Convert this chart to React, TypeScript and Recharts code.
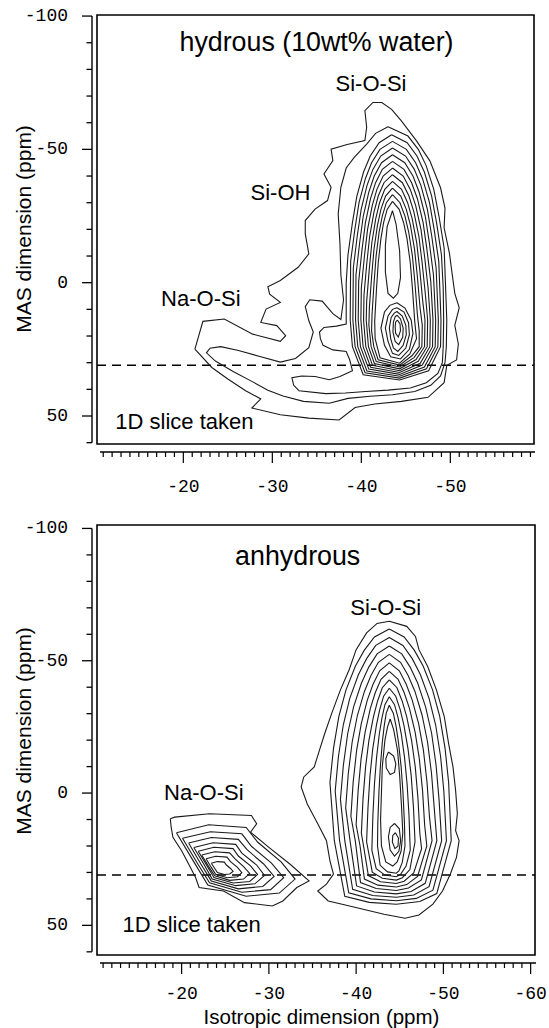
import React from "react";
import { ScatterChart, Scatter, XAxis, YAxis, ReferenceLine, ReferenceArea } from "recharts";

type Pt = [number, number];

// ---- hydrous panel contours (isotropic ppm, MAS ppm) ----
const hydT1: Pt[] = [[-21.3,24.9],[-22.2,14.5],[-24.6,13.6],[-27.8,19.3],[-30.9,22],[-31.5,19.9],[-30.5,16.1],[-28.7,14.9],[-29.3,9.9],[-30.9,7.4],[-29.7,4.3],[-29.5,1.5],[-30.9,-0.8],[-32.9,-5.8],[-34.1,-10.8],[-33.7,-18.3],[-33.7,-23.3],[-34.8,-27.6],[-36.2,-30.8],[-36.6,-35.8],[-35.8,-40.8],[-36.8,-45.8],[-36.6,-50.1],[-38.4,-51.8],[-40.4,-53.3],[-40.6,-58.3],[-40.4,-64.5],[-41.3,-67.6],[-42.3,-67.6],[-43.4,-65],[-44.5,-60.7],[-46.2,-53.2],[-47.7,-45.7],[-48.9,-35.6],[-49.4,-28],[-49.3,-20.6],[-49.9,-11],[-50.2,-3.4],[-50.5,4],[-51,9.4],[-50.5,16],[-50.9,23],[-50.7,29],[-49.6,31],[-49.3,37.5],[-47.5,43],[-44.5,44.5],[-41.5,45.5],[-39.3,46.8],[-37.5,51.5],[-34.1,50.8],[-30.9,49.5],[-27.7,47],[-28.7,43.6],[-27,40.5],[-25,36.1],[-23.2,31.8]];
const hydT2: Pt[] = [[-43,-58.5],[-45.24,-55],[-46.4,-50],[-47.27,-44],[-48.14,-35],[-48.72,-25],[-49.3,-13],[-49.45,0],[-49.6,14],[-49.55,24],[-49.4,30],[-48.9,35],[-47.8,38.5],[-46,40.8],[-43.5,42],[-41,42.6],[-38.5,43.4],[-36.4,45.2],[-33.5,44.5],[-31.2,42.5],[-29.5,40.3],[-27.8,37.2],[-25.6,33.3],[-23.6,29.4],[-22.6,26.3],[-23,24.6],[-24.2,24],[-26.2,25.4],[-28.5,27.6],[-30.9,29.8],[-32.6,28.4],[-34.1,24.4],[-34.6,18.5],[-34.1,14.3],[-33.7,9],[-34.2,6.4],[-35.6,6.9],[-36.8,11.6],[-37.7,13.8],[-38,6.5],[-37.7,-3],[-37.6,-14.5],[-37.4,-25.8],[-37.7,-35.8],[-38.3,-43],[-39.2,-47],[-40.6,-52],[-41.6,-56]];
const hydT3: Pt[] = [[-43.4,-55.5],[-45.15,-52.5],[-46.25,-47.5],[-47.08,-41.5],[-47.9,-32.5],[-48.45,-22.5],[-49,-10.5],[-49.2,2],[-49.25,14],[-49.2,24],[-49.1,30],[-48.6,34],[-47.3,37.5],[-45.5,39.5],[-43,40.3],[-40.5,40.8],[-38.2,41.4],[-36,41.6],[-33,40.5],[-32.4,38.5],[-32.2,35.6],[-33.3,35],[-34.8,35.2],[-36.4,36.4],[-37.6,35.2],[-39,33],[-38.7,29],[-38.3,25.8],[-36.8,25.2],[-35.7,23.5],[-35.4,21],[-35.3,18.5],[-35.8,16.8],[-37.2,16.3],[-38.3,15.5],[-38.3,10],[-38.3,0],[-38.5,-10.5],[-39,-22.5],[-39.5,-32.5],[-40.25,-41.5],[-41,-47.5],[-42,-52.5]];
const hydS1: Pt[] = [[-43.5,-53],[-45.06,-50],[-46.1,-45],[-46.88,-39],[-47.66,-30],[-48.18,-20],[-48.7,-8],[-48.95,14],[-48.9,24],[-47.56,33],[-44.3,36.5],[-40.21,34.5],[-39,24],[-38.75,14],[-38.8,-8],[-39.27,-20],[-39.74,-30],[-40.45,-39],[-41.15,-45],[-42.09,-50]];
const hydS2: Pt[] = [[-43.5,-50.5],[-44.97,-47.5],[-45.95,-42.5],[-46.69,-36.5],[-47.42,-27.5],[-47.91,-17.5],[-48.4,-5.5],[-48.65,14],[-48.6,24],[-47.32,32.3],[-44.3,35.8],[-40.42,33.8],[-39.3,24],[-39.05,14],[-39.1,-5.5],[-39.54,-17.5],[-39.98,-27.5],[-40.64,-36.5],[-41.3,-42.5],[-42.18,-47.5]];
const hydS3: Pt[] = [[-43.5,-48],[-44.88,-45],[-45.8,-40],[-46.49,-34],[-47.18,-25],[-47.64,-15],[-48.1,-3],[-48.35,14],[-48.3,24],[-47.09,31.6],[-44.3,35.1],[-40.63,33.1],[-39.6,24],[-39.35,14],[-39.4,-3],[-39.81,-15],[-40.22,-25],[-40.84,-34],[-41.45,-40],[-42.27,-45]];
const hydS4: Pt[] = [[-43.5,-45.5],[-44.79,-42.5],[-45.65,-37.5],[-46.3,-31.5],[-46.94,-22.5],[-47.37,-12.5],[-47.8,-0.5],[-48.05,14],[-48,24],[-46.85,30.9],[-44.3,34.4],[-40.84,32.4],[-39.9,24],[-39.65,14],[-39.7,-0.5],[-40.08,-12.5],[-40.46,-22.5],[-41.03,-31.5],[-41.6,-37.5],[-42.36,-42.5]];
const hydS5: Pt[] = [[-43.5,-43],[-44.7,-40],[-45.5,-35],[-46.1,-29],[-46.7,-20],[-47.1,-10],[-47.5,2],[-47.75,14],[-47.7,24],[-46.62,30.2],[-44.3,33.7],[-41.05,31.7],[-40.2,24],[-39.95,14],[-40,2],[-40.35,-10],[-40.7,-20],[-41.23,-29],[-41.75,-35],[-42.45,-40]];
const hydS6: Pt[] = [[-43.5,-40.5],[-44.61,-37.5],[-45.35,-32.5],[-45.91,-26.5],[-46.46,-17.5],[-46.83,-7.5],[-47.2,4.5],[-47.45,14],[-47.4,24],[-46.39,29.5],[-44.3,33],[-41.26,31],[-40.5,24],[-40.25,14],[-40.3,4.5],[-40.62,-7.5],[-40.94,-17.5],[-41.42,-26.5],[-41.9,-32.5],[-42.54,-37.5]];
const hydS7: Pt[] = [[-43.5,-38],[-44.52,-35],[-45.2,-30],[-45.71,-24],[-46.22,-15],[-46.56,-5],[-46.9,7],[-47.15,14],[-47.1,24],[-46.15,28.8],[-44.3,32.3],[-41.47,30.3],[-40.8,24],[-40.55,14],[-40.6,7],[-40.89,-5],[-41.18,-15],[-41.62,-24],[-42.05,-30],[-42.63,-35]];
const hydS8: Pt[] = [[-43.5,-35.5],[-44.43,-32.5],[-45.05,-27.5],[-45.52,-21.5],[-45.98,-12.5],[-46.29,-2.5],[-46.6,9.5],[-46.85,16],[-46.8,24],[-45.92,28.1],[-44.3,31.6],[-41.68,29.6],[-41.1,24],[-40.85,16],[-40.9,9.5],[-41.16,-2.5],[-41.42,-12.5],[-41.81,-21.5],[-42.2,-27.5],[-42.72,-32.5]];
const hydS9: Pt[] = [[-43.5,-33],[-44.34,-30],[-44.9,-25],[-45.32,-19],[-45.74,-10],[-46.02,0],[-46.3,12],[-46.5,18],[-46.5,24],[-45.68,27.4],[-44.3,30.9],[-41.89,28.9],[-41.4,24],[-41.15,18],[-41.2,12],[-41.43,0],[-41.66,-10],[-42,-19],[-42.35,-25],[-42.81,-30]];
const hydS10: Pt[] = [[-43.5,-30.5],[-44.25,-27.5],[-44.75,-22.5],[-45.13,-16.5],[-45.5,-7.5],[-45.75,2.5],[-46,14.5],[-46.2,21],[-45.45,26.7],[-44.3,30.2],[-42.1,28.2],[-41.55,21],[-41.5,14.5],[-41.7,2.5],[-41.9,-7.5],[-42.2,-16.5],[-42.5,-22.5],[-42.9,-27.5]];
const hydTear: Pt[] = [[-43.5,-27],[-43.9,-22],[-44.3,-12],[-44.4,-2],[-44.1,4],[-43.6,5.8],[-43,4],[-42.7,-4],[-42.7,-14],[-42.9,-21]];
const hydC1: Pt[] = [[-44,7.5],[-44.9,9.5],[-45.6,14],[-45.8,19],[-45.4,25],[-44.4,28.6],[-43.3,27.8],[-42.6,23.5],[-42.2,17],[-42.6,11],[-43.2,8.5]];
const hydC2: Pt[] = [[-44,9.4],[-44.8,11],[-45.3,15],[-45.4,19.5],[-45,24.5],[-44.2,27.3],[-43.5,26.5],[-43,22],[-42.7,17],[-43,12.5],[-43.5,10]];
const hydC3: Pt[] = [[-44,10.8],[-44.6,12.5],[-45,16],[-45.05,19.5],[-44.7,23.5],[-44.1,25.8],[-43.6,24.5],[-43.3,21],[-43.15,17],[-43.35,13],[-43.7,11.4]];
const hydC4: Pt[] = [[-44,12.2],[-44.4,13.6],[-44.7,17],[-44.65,20.5],[-44.2,23.2],[-43.8,22],[-43.55,18.5],[-43.6,14.8],[-43.8,12.8]];
const hydC5: Pt[] = [[-44.05,14],[-44.35,15.5],[-44.4,18],[-44.15,20.4],[-43.85,19],[-43.8,16.5],[-43.85,14.8]];

const hydrousContours: Pt[][] = [hydT1, hydT2, hydT3, hydS1, hydS2, hydS3, hydS4, hydS5, hydS6, hydS7, hydS8, hydS9, hydS10, hydTear, hydC1, hydC2, hydC3, hydC4, hydC5];

// ---- anhydrous panel contours ----
const anhR1: Pt[] = [[-43.8,-64.9],[-45.8,-63],[-46.8,-59.2],[-47.2,-54.2],[-48.2,-47.8],[-49.2,-39],[-50.1,-28.9],[-50.6,-18.7],[-51.1,-9.9],[-51.4,-1],[-51.6,7.8],[-51.4,14.2],[-51.8,18],[-51.5,24.3],[-50.8,30.6],[-49.9,37],[-48.8,42],[-47.2,46.1],[-45.6,47.3],[-43.2,45.8],[-40.8,43.9],[-38.4,42],[-36.8,40.8],[-35.6,37],[-36.6,34.4],[-37.4,30.6],[-37,25.6],[-36.6,18],[-35.6,11.6],[-34.4,4.1],[-33.7,-2.3],[-34,-6.1],[-35.2,-9.9],[-35.8,-16.2],[-36.4,-22.5],[-37.2,-30.1],[-38.2,-39],[-39.2,-46.6],[-40,-54.2],[-41.2,-60.5],[-42.4,-64.1]];
const anhR2: Pt[] = [[-43.8,-62],[-45.5,-59],[-46.66,-54],[-47.68,-48],[-48.76,-39],[-49.58,-29],[-50.19,-17],[-50.6,-4],[-50.9,18],[-49.24,38],[-47.3,41],[-44.6,42],[-41.5,41.3],[-38.7,39],[-37.5,18],[-37,-4],[-37.41,-17],[-38.02,-29],[-38.84,-39],[-39.92,-48],[-40.94,-54],[-42.1,-59]];
const anhR3: Pt[] = [[-43.8,-58.8],[-45.36,-55.8],[-46.43,-50.8],[-47.36,-44.8],[-48.36,-35.8],[-49.11,-25.8],[-49.68,-13.8],[-50.05,-0.8],[-50.35,18],[-48.8,36.7],[-46.9,39.8],[-44.6,40.7],[-41.7,40],[-39.15,37.7],[-38.1,18],[-37.6,-0.8],[-37.97,-13.8],[-38.53,-25.8],[-39.27,-35.8],[-40.27,-44.8],[-41.2,-50.8],[-42.25,-55.8]];
const anhR4: Pt[] = [[-43.8,-55.6],[-45.23,-52.6],[-46.19,-47.6],[-47.05,-41.6],[-47.96,-32.6],[-48.65,-22.6],[-49.16,-10.6],[-49.5,2.4],[-49.8,18],[-48.36,35.4],[-46.6,38.5],[-44.6,39.4],[-41.9,38.7],[-39.6,36.4],[-38.7,18],[-38.2,2.4],[-38.54,-10.6],[-39.04,-22.6],[-39.71,-32.6],[-40.61,-41.6],[-41.45,-47.6],[-42.4,-52.6]];
const anhR5: Pt[] = [[-43.8,-52.4],[-45.09,-49.4],[-45.96,-44.4],[-46.74,-38.4],[-47.56,-29.4],[-48.18,-19.4],[-48.64,-7.4],[-48.95,5.6],[-49.25,18],[-47.92,34.1],[-46.3,37.2],[-44.6,38.1],[-42.1,37.4],[-40.05,35.1],[-39.3,18],[-38.8,5.6],[-39.1,-7.4],[-39.55,-19.4],[-40.15,-29.4],[-40.95,-38.4],[-41.7,-44.4],[-42.55,-49.4]];
const anhR6: Pt[] = [[-43.8,-49.2],[-44.95,-46.2],[-45.73,-41.2],[-46.42,-35.2],[-47.16,-26.2],[-47.71,-16.2],[-48.12,-4.2],[-48.4,8.8],[-48.7,18],[-47.48,32.8],[-46,35.9],[-44.6,36.8],[-42.3,36.1],[-40.5,33.8],[-39.9,18],[-39.4,8.8],[-39.66,-4.2],[-40.06,-16.2],[-40.59,-26.2],[-41.29,-35.2],[-41.95,-41.2],[-42.7,-46.2]];
const anhR7: Pt[] = [[-43.8,-46],[-44.81,-43],[-45.5,-38],[-46.11,-32],[-46.76,-23],[-47.24,-13],[-47.61,-1],[-47.85,12],[-48.1,20],[-47.04,31.5],[-45.8,34.6],[-44.6,35.5],[-42.5,34.8],[-40.95,32.5],[-40.45,20],[-40,12],[-40.23,-1],[-40.57,-13],[-41.03,-23],[-41.63,-32],[-42.2,-38],[-42.85,-43]];
const anhR8: Pt[] = [[-43.8,-42.8],[-44.68,-39.8],[-45.27,-34.8],[-45.8,-28.8],[-46.36,-19.8],[-46.78,-9.8],[-47.09,2.2],[-47.3,15.2],[-47.5,21],[-46.6,30.2],[-45.5,33.3],[-44.6,34.2],[-42.8,33.5],[-41.4,31.2],[-40.9,21],[-40.6,15.2],[-40.79,2.2],[-41.08,-9.8],[-41.46,-19.8],[-41.98,-28.8],[-42.46,-34.8],[-43,-39.8]];
const anhR9: Pt[] = [[-43.8,-39.6],[-44.54,-36.6],[-45.04,-31.6],[-45.48,-25.6],[-45.95,-16.6],[-46.31,-6.6],[-46.57,5.4],[-46.75,18.4],[-46.16,28.9],[-45.3,32],[-44.6,32.9],[-43,32.2],[-41.85,29.9],[-41.2,18.4],[-41.36,5.4],[-41.59,-6.6],[-41.9,-16.6],[-42.32,-25.6],[-42.71,-31.6],[-43.15,-36.6]];
const anhR10: Pt[] = [[-43.8,-36.4],[-44.4,-33.4],[-44.81,-28.4],[-45.17,-22.4],[-45.55,-13.4],[-45.84,-3.4],[-46.06,8.6],[-46.2,21.6],[-45.72,27.6],[-45.1,30.7],[-44.6,31.6],[-43.3,31],[-42.3,28.6],[-41.8,21.6],[-41.92,8.6],[-42.1,-3.4],[-42.34,-13.4],[-42.66,-22.4],[-42.96,-28.4],[-43.3,-33.4]];
const anhR11: Pt[] = [[-43.8,-33.2],[-44.26,-30.2],[-44.58,-25.2],[-44.85,-19.2],[-45.15,-10.2],[-45.37,-0.2],[-45.54,11.8],[-45.6,20],[-45.28,26.3],[-44.9,29.4],[-44.6,30.3],[-43.6,29.8],[-42.75,27.3],[-42.45,20],[-42.48,11.8],[-42.61,-0.2],[-42.78,-10.2],[-43,-19.2],[-43.21,-25.2],[-43.45,-30.2]];
const anhR12: Pt[] = [[-43.9,-28],[-44.3,-24],[-44.75,-16],[-45,-6],[-45.2,5],[-45.35,15],[-45.15,22],[-44.7,26],[-44.2,27.6],[-43.4,26],[-42.9,20],[-42.8,10],[-42.9,0],[-43,-10],[-43.3,-20],[-43.6,-25]];
const anhIsland: Pt[] = [[-43.7,-15.5],[-44.3,-14],[-44.55,-11],[-44.4,-7.8],[-43.9,-7],[-43.45,-9.5],[-43.4,-13]];
const anhK1: Pt[] = [[-44.4,11.5],[-44.95,13.5],[-45.1,18],[-44.9,22],[-44.4,23.8],[-43.9,21.5],[-43.7,16.5],[-43.9,13]];
const anhK2: Pt[] = [[-44.5,15],[-44.85,17],[-44.8,20],[-44.45,21],[-44.15,18.5],[-44.2,16]];
const anhN1: Pt[] = [[-18.7,9.7],[-19.2,9.1],[-23.2,7.8],[-28,8.5],[-28.6,11.6],[-27.9,14.8],[-30,20.5],[-32.4,26.8],[-34.6,33.2],[-33.2,35.7],[-31.6,40.8],[-30.4,42.7],[-27.2,41.4],[-24.8,37],[-22,35.7],[-21.6,31.9],[-20.8,26.8],[-20,21.8],[-19,16.7],[-18.8,12.9]];
const anhN2: Pt[] = [[-19.4,15],[-23.1,12],[-27.4,13],[-28.7,18.5],[-31.4,26],[-33,32.5],[-31.2,37.8],[-27.4,39],[-23,34.8],[-21.4,26]];
const anhN3: Pt[] = [[-20.1,17.1],[-23.3,14.6],[-26.9,15.4],[-28,20.1],[-30.3,26.5],[-31.7,32],[-30.2,36.5],[-26.9,37.5],[-23.2,33.9],[-21.8,26.5]];
const anhN4: Pt[] = [[-20.8,18.9],[-23.4,16.8],[-26.5,17.5],[-27.5,21.4],[-29.4,26.8],[-30.6,31.5],[-29.3,35.3],[-26.5,36.2],[-23.4,33.2],[-22.2,26.8]];
const anhN5: Pt[] = [[-21.4,20.6],[-23.6,18.8],[-26.2,19.4],[-26.9,22.7],[-28.6,27.2],[-29.5,31.1],[-28.4,34.3],[-26.2,35],[-23.5,32.5],[-22.6,27.2]];
const anhN6: Pt[] = [[-21.9,22],[-23.7,20.5],[-25.9,21],[-26.5,23.8],[-27.9,27.5],[-28.7,30.8],[-27.8,33.4],[-25.9,34],[-23.7,31.9],[-22.9,27.5]];
const anhN7: Pt[] = [[-22.3,23.4],[-23.8,22.2],[-25.5,22.6],[-26.1,24.8],[-27.1,27.8],[-27.8,30.4],[-27.1,32.5],[-25.5,33],[-23.8,31.3],[-23.1,27.8]];
const anhN8: Pt[] = [[-22.8,24.8],[-23.9,23.9],[-25.2,24.2],[-25.6,25.9],[-26.4,28.1],[-26.9,30.1],[-26.4,31.6],[-25.2,32],[-23.9,30.7],[-23.4,28.1]];
const anhN9: Pt[] = [[-23.4,26.5],[-24.1,25.9],[-24.9,26.1],[-25.1,27.1],[-25.6,28.5],[-25.9,29.6],[-25.5,30.6],[-24.9,30.8],[-24.1,30],[-23.8,28.5]];

const anhydrousContours: Pt[][] = [anhR1, anhR2, anhR3, anhR4, anhR5, anhR6, anhR7, anhR8, anhR9, anhR10, anhR11, anhR12, anhIsland, anhK1, anhK2, anhN1, anhN2, anhN3, anhN4, anhN5, anhN6, anhN7, anhN8, anhN9];

// axis ticks
const yTicks = [-100, -90, -80, -70, -60, -50, -40, -30, -20, -10, 0, 10, 20, 30, 40, 50, 60];
const yLabels = [-100, -50, 0, 50];
const xTicksTop = Array.from({ length: 49 }, (_, i) => -11 - i);
const xTicksBottom = Array.from({ length: 50 }, (_, i) => -11 - i);
const xLabelsTop = [-20, -30, -40, -50];
const xLabelsBottom = [-20, -30, -40, -50, -60];
const sliceAt = 31;

const MONO = '"Liberation Mono", "Courier New", monospace';
const SANS = '"Liberation Sans", Arial, Helvetica, sans-serif';

const closeLoop = (c: Pt[]) => [...c, c[0]].map(([x, y]) => ({ x, y }));
const NoDot = () => <g />;

type PanelProps = {
  height: number;
  rightMargin: number;
  bottomMargin: number;
  labelGap: number;
  xDomain: [number, number];
  yDomain: [number, number];
  xTicks: number[];
  xLabels: number[];
  contours: Pt[][];
};

function Panel({ height, rightMargin, bottomMargin, labelGap, xDomain, yDomain, xTicks, xLabels, contours }: PanelProps) {
  const plotLeft = 97;
  const plotTop = 15;
  const plotRight = 549 - rightMargin;
  const plotBottom = height - bottomMargin - 50;
  const xPerPx = (xDomain[1] - xDomain[0]) / (plotRight - plotLeft);
  const yPerPx = (yDomain[1] - yDomain[0]) / (plotBottom - plotTop);
  const axisX = plotLeft - 5;
  const axisY = plotBottom + 8;

  const renderYTick = (p: any) => {
    const v = p.payload.value;
    const major = yLabels.includes(v);
    return (
      <g>
        <line x1={axisX - (major ? 10 : 5.5)} x2={axisX} y1={p.y} y2={p.y} stroke="#000" strokeWidth={1.3} />
        {major && (
          <text x={68} y={p.y} textAnchor="end" dominantBaseline="central" fontFamily={MONO} fontSize={18} fill="#000">
            {v}
          </text>
        )}
      </g>
    );
  };

  const renderXTick = (p: any) => {
    const v = p.payload.value;
    const major = xLabels.includes(v);
    return (
      <g>
        <line x1={p.x} x2={p.x} y1={axisY} y2={axisY + (major ? 11 : 5)} stroke="#000" strokeWidth={1.2} />
        {major && (
          <text x={p.x} y={axisY + labelGap} textAnchor="middle" dominantBaseline="central" fontFamily={MONO} fontSize={18} fill="#000">
            {v}
          </text>
        )}
      </g>
    );
  };

  return (
    <ScatterChart width={549} height={height} margin={{ top: plotTop, right: rightMargin, left: plotLeft - 60, bottom: bottomMargin }}>
      <XAxis
        type="number"
        dataKey="x"
        domain={xDomain}
        reversed
        allowDataOverflow
        ticks={xTicks}
        interval={0}
        height={50}
        axisLine={false}
        tickLine={false}
        tick={renderXTick}
      />
      <YAxis
        type="number"
        dataKey="y"
        domain={yDomain}
        reversed
        allowDataOverflow
        ticks={yTicks}
        interval={0}
        width={60}
        axisLine={false}
        tickLine={false}
        tick={renderYTick}
      />
      {contours.map((c, i) => (
        <Scatter
          key={i}
          data={closeLoop(c)}
          line={{ stroke: "#1a1a1a", strokeWidth: 1.1 }}
          shape={NoDot}
          isAnimationActive={false}
        />
      ))}
      <ReferenceLine y={sliceAt} stroke="#000" strokeWidth={1.5} strokeDasharray="9 6" />
      <ReferenceArea
        x1={xDomain[1]}
        x2={xDomain[0]}
        y1={yDomain[0]}
        y2={yDomain[1]}
        fill="none"
        stroke="#000"
        strokeWidth={1.6}
        ifOverflow="visible"
      />
      <ReferenceLine
        segment={[{ x: xDomain[1] + 5 * xPerPx, y: -100 }, { x: xDomain[1] + 5 * xPerPx, y: 60 }]}
        stroke="#000"
        strokeWidth={1.4}
        ifOverflow="visible"
      />
      <ReferenceLine
        segment={[{ x: xDomain[1] - 3 * xPerPx, y: yDomain[1] + 8 * yPerPx }, { x: xDomain[0] - 1 * xPerPx, y: yDomain[1] + 8 * yPerPx }]}
        stroke="#000"
        strokeWidth={1.4}
        ifOverflow="visible"
      />
    </ScatterChart>
  );
}

const Label = ({ x, y, size, children }: { x: number; y: number; size: number; children: React.ReactNode }) => (
  <div
    style={{
      position: "absolute",
      left: x,
      top: y,
      transform: "translate(-50%, -50%)",
      fontSize: size,
      lineHeight: 1,
      whiteSpace: "nowrap",
      color: "#000",
    }}
  >
    {children}
  </div>
);

export default function App() {
  return (
    <div style={{ position: "absolute", left: 0, top: 0, width: 549, height: 1028, background: "#fff", fontFamily: SANS, overflow: "hidden" }}>
      <div style={{ position: "absolute", left: 0, top: 0 }}>
        <Panel
          height={510}
          rightMargin={15}
          bottomMargin={16}
          labelGap={35}
          xDomain={[-59.4, -10.3]}
          yDomain={[-100.4, 60.5]}
          xTicks={xTicksTop}
          xLabels={xLabelsTop}
          contours={hydrousContours}
        />
      </div>
      <div style={{ position: "absolute", left: 0, top: 510 }}>
        <Panel
          height={518}
          rightMargin={14}
          bottomMargin={23}
          labelGap={31}
          xDomain={[-60.5, -10.3]}
          yDomain={[-101.3, 61.2]}
          xTicks={xTicksBottom}
          xLabels={xLabelsBottom}
          contours={anhydrousContours}
        />
      </div>

      <Label x={316.5} y={42} size={26.8}>hydrous (10wt% water)</Label>
      <Label x={371} y={83.6} size={22}>Si-O-Si</Label>
      <Label x={280.5} y={193} size={22}>Si-OH</Label>
      <Label x={200.8} y={299} size={22}>Na-O-Si</Label>
      <Label x={184.4} y={422} size={22}>1D slice taken</Label>
      <Label x={23} y={229} size={21}>
        <span style={{ display: "inline-block", transform: "rotate(-90deg)" }}>MAS dimension (ppm)</span>
      </Label>

      <Label x={297.7} y={556} size={26.8}>anhydrous</Label>
      <Label x={385.8} y={607.6} size={22}>Si-O-Si</Label>
      <Label x={203.8} y={793} size={22}>Na-O-Si</Label>
      <Label x={191.6} y={925} size={22}>1D slice taken</Label>
      <Label x={23} y={731} size={21}>
        <span style={{ display: "inline-block", transform: "rotate(-90deg)" }}>MAS dimension (ppm)</span>
      </Label>
      <Label x={321.5} y={1016.5} size={20.5}>Isotropic dimension (ppm)</Label>
    </div>
  );
}
